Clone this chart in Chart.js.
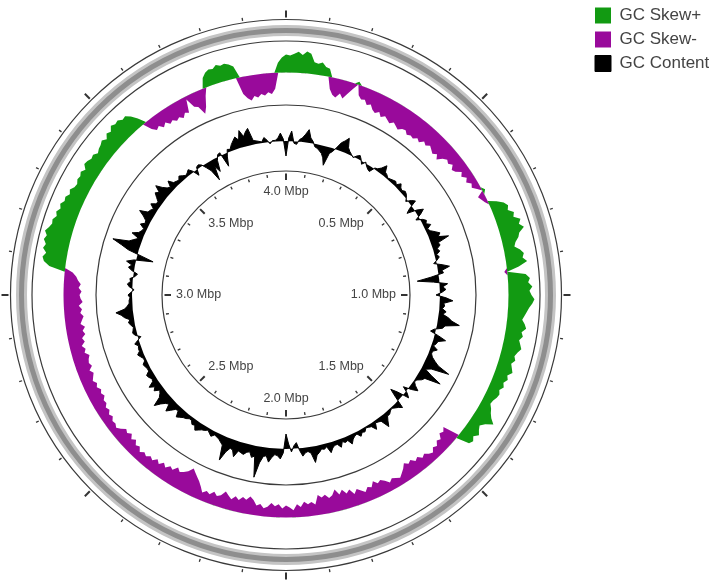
<!DOCTYPE html>
<html><head><meta charset="utf-8">
<script src="https://cdn.jsdelivr.net/npm/chart.js@4.4.1/dist/chart.umd.min.js"></script>
<style>html,body{margin:0;padding:0;background:#fff;overflow:hidden;width:709px;height:584px;position:relative}canvas{display:block;position:absolute;left:-16px;top:0}</style>
</head><body>
<canvas id="c" width="732" height="590"></canvas>
<script>
// ---------------- data ----------------
const GENOME_MBP = 4.0;
const SERIES_NAMES = ['GC Skew+', 'GC Skew-', 'GC Content'];
const TICK_POSITIONS_MBP = [0.5, 1.0, 1.5, 2.0, 2.5, 3.0, 3.5, 4.0];
const TICK_LABELS = ['0.5 Mbp', '1.0 Mbp', '1.5 Mbp', '2.0 Mbp', '2.5 Mbp', '3.0 Mbp', '3.5 Mbp', '4.0 Mbp'];
const MINOR_TICK_STEP_MBP = 0.1;

// GC skew, one window per degree (clockwise from 0 Mbp), positive = Skew+
const GC_SKEW = [
  18, 17, 19, 21, 18, 22, 20, 12, 11, 13,
  9, 8, -12, -17, -19, -14, -18, -12, -6, 3,
  -10, -13, -12, -16, -14, -18, -20, -17, -21, -18,
  -20, -22, -19, -21, -23, -20, -19, -22, -20, -21,
  -18, -20, -16, -18, -15, -17, -19, -16, -20, -15,
  -12, -14, -11, -15, -13, -8, -11, -7, -10, -6,
  -8, -4, 3, -7, -5, -3, 8, 14, 17, 15,
  20, 18, 24, 21, 25, 19, 17, 13, 11, 16,
  19, 17, 21, 12, -3, 18, 22, 20, 24, 21,
  23, 26, 24, 21, 19, 17, 15, 18, 20, 16,
  18, 15, 17, 19, 16, 14, 16, 13, 15, 17,
  13, 15, 12, 14, 11, 13, 12, 10, 9, 12,
  14, 17, 22, 15, 11, 13, 16, 12, 15, 13,
  -17, -14, -16, -11, -13, -9, -11, -7, -9, -12,
  -10, -14, -12, -16, -14, -17, -13, -10, -7, -9,
  -11, -8, -12, -15, -13, -17, -12, -14, -10, -13,
  -16, -12, -18, -15, -20, -16, -22, -17, -15, -19,
  -17, -20, -11, -14, -12, -15, -10, -13, -7, -10,
  -12, -9, -13, -11, -14, -10, -8, -12, -10, -15,
  -18, -14, -16, -12, -15, -11, -14, -17, -12, -10,
  -13, -9, -11, -8, -13, -17, -20, -23, -26, -21,
  -18, -16, -19, -14, -16, -12, -15, -11, -14, -10,
  -12, -9, -11, -8, -12, -10, -14, -11, -15, -12,
  -14, -10, -7, -9, -8, -11, -9, -12, -10, -13,
  -12, -15, -13, -15, -12, -14, -11, -13, -15, -12,
  -16, -14, -15, -17, -13, -15, -12, -16, -14, -18,
  -16, -19, -15, -17, -19, -16, -18, -15, -19, -17,
  -16, -18, -15, -17, -14, -12, -8, 16, 22, 24,
  21, 25, 23, 26, 24, 27, 24, 22, 23, 20,
  22, 19, 21, 18, 19, 16, 18, 15, 14, 16,
  15, 17, 14, 18, 17, 15, 16, 13, 15, 16,
  18, 15, 19, 17, 21, 19, 20, 17, 18, 14,
  8, -9, -13, -11, -15, -12, -16, -14, -17, -15,
  -18, -14, -16, -3, -13, -15, -24, -18, -8, 10,
  14, 16, 15, 18, 16, 17, 15, 12, -17, -22,
  -25, -21, -23, -20, -22, -19, -21, -16, 10, 15
];

// GC content deviation from the mean, same windows, positive = outward
const GC_CONTENT = [
  -15, 3, 10, -2, -3, 2, 4, 8, 13, 5,
  2, -3, -4, -6, -8, -12, -19, -6, -3, 2,
  8, 11, 15, 6, 3, 1, -1, 2, 4, 1,
  -3, 1, -2, -4, -5, 1, 2, 5, 10, 4,
  3, 1, 2, 3, 4, 2, 6, 3, 2, 4,
  3, 1, -2, 3, 6, -3, -8, 2, 8, 3,
  -4, 2, 5, 3, 7, 2, 4, 8, 12, 9,
  19, 7, 8, 4, 6, 2, 4, 1, -3, 5,
  12, 4, 5, -8, -22, -6, 8, 3, 6, 2,
  -4, 6, 13, 4, 5, 3, 7, 4, 10, 14,
  22, 8, 6, -2, -5, 4, 12, 5, 4, 2,
  7, 3, 3, 5, 9, 14, 27, 9, 4, 12,
  24, 8, 6, 2, 1, 4, 9, 3, -5, 2,
  6, -6, -13, -4, 8, 5, 3, 1, 2, 4,
  4, 8, 13, 4, 3, 2, 8, 3, 2, 1,
  4, 3, 6, 2, 3, 5, 9, 4, 5, 3,
  8, 4, 4, 6, 10, 3, 5, 4, 7, 9,
  16, 6, 4, 5, 8, 2, -6, -3, 3, -5,
  -15, 4, 10, 7, 6, 9, 14, 8, 9, 16,
  31, 10, 12, 7, 8, 11, 10, 9, 16, 10,
  9, 14, 24, 9, 7, 5, 4, 3, 6, 4,
  2, 4, 5, 7, 9, 5, 6, 3, 3, 5,
  6, 8, 10, 4, 5, 9, 13, 6, 8, 12,
  18, 9, 6, 4, 9, 6, 11, 5, 4, 6,
  7, 3, 3, 4, 5, 2, 2, 4, 6, 3,
  3, 2, 5, 1, -3, 2, 4, 3, 2, 4,
  6, 4, 9, 12, 17, 8, 5, 3, 3, 2,
  4, 1, -2, 3, 5, 2, 3, -2, -4, 2,
  6, 3, 9, 2, -17, -5, 10, 18, 28, 12,
  8, 4, 12, 6, 4, 3, 8, 4, 5, 9,
  15, 7, 6, 4, 9, 5, 4, 8, 12, 9,
  16, 10, 6, 4, 10, 5, 4, 3, 6, 4,
  2, 3, 5, 1, -6, 2, 3, 1, -4, -9,
  -21, -7, -14, -3, 2, 3, -13, -4, 3, 2,
  6, 9, 12, 8, 17, 10, 14, 17, 4, 3,
  2, 1, 5, 2, -2, 1, 1, 3, 8, 2
];

// ---------------- ring layout (radial scale units = px) ----------------
const SCALE_MAX = 295;
const R_INNER = 124, GC_BASE = 154, R_MID = 190, SKEW_BASE = 222.5;
const R_BAND_IN = 254, R_BAND = 264.5, R_OUTER = 275.5;
const OUTER_TICK = {r0: 277.5, minor: 280.5, major: 284.5};
const INNER_TICK = {r1: 121.5, minor: 118.5, major: 115};
const LABEL_R = 110;

const GREEN = '#129a12', PURPLE = '#990a9b', BLACK = '#000000', LINE = '#3a3a3a';

const N = GC_SKEW.length;
const positions = GC_SKEW.map((_, i) => (i * GENOME_MBP / N).toFixed(3) + ' Mbp');

const GRID_RINGS = [
  {v: 0, c: 'rgba(0,0,0,0)', w: 0},
  {v: R_INNER, c: LINE, w: 1.2},
  {v: R_MID, c: LINE, w: 1.2},
  {v: R_BAND_IN, c: LINE, w: 1.2},
  {v: R_BAND, c: '#c4c4c4', w: 11},
  {v: R_BAND, c: '#8e8e8e', w: 5},
  {v: R_OUTER, c: LINE, w: 1.2}
];

const ringDecor = {
  id: 'ringDecor',
  afterDatasetsDraw(chart) {
    const s = chart.scales.r, ctx = chart.ctx;
    const idxOf = mbp => (mbp % GENOME_MBP) / GENOME_MBP * N;
    const seg = (idx, a, b, w) => {
      const p = s.getPointPositionForValue(idx, a), q = s.getPointPositionForValue(idx, b);
      ctx.lineWidth = w; ctx.beginPath(); ctx.moveTo(p.x, p.y); ctx.lineTo(q.x, q.y); ctx.stroke();
    };
    ctx.save();
    ctx.strokeStyle = '#333';
    const nTicks = Math.round(GENOME_MBP / MINOR_TICK_STEP_MBP);
    for (let k = 0; k < nTicks; k++) {
      const idx = idxOf(k * MINOR_TICK_STEP_MBP);
      const major = k % 5 === 0;
      seg(idx, OUTER_TICK.r0, major ? OUTER_TICK.major : OUTER_TICK.minor, major ? 2 : 1.3);
      seg(idx, major ? INNER_TICK.major : INNER_TICK.minor, INNER_TICK.r1, major ? 2 : 1.3);
    }
    ctx.fillStyle = '#444';
    ctx.font = '12.5px "Liberation Sans", Arial, sans-serif';
    TICK_POSITIONS_MBP.forEach((mbp, i) => {
      const deg = ((mbp % GENOME_MBP) / GENOME_MBP) * 360;
      const p = s.getPointPositionForValue(idxOf(mbp), LABEL_R);
      ctx.textAlign = (deg === 0 || deg === 180) ? 'center' : (deg < 180 ? 'right' : 'left');
      ctx.textBaseline = (deg === 90 || deg === 270) ? 'middle' : ((deg > 90 && deg < 270) ? 'bottom' : 'top');
      ctx.fillText(TICK_LABELS[i], p.x, p.y);
    });
    ctx.restore();
  }
};

new Chart(document.getElementById('c'), {
  type: 'radar',
  data: {
    labels: positions,
    datasets: [
      {label: SERIES_NAMES[0], data: GC_SKEW.map(v => SKEW_BASE + Math.max(v, 0)),
       backgroundColor: GREEN, borderColor: GREEN, borderWidth: 0, fill: {value: SKEW_BASE}},
      {label: SERIES_NAMES[1], data: GC_SKEW.map(v => SKEW_BASE + Math.min(v, 0)),
       backgroundColor: PURPLE, borderColor: PURPLE, borderWidth: 0, fill: {value: SKEW_BASE}},
      {label: SERIES_NAMES[2], data: GC_CONTENT.map(v => GC_BASE + v),
       backgroundColor: BLACK, borderColor: BLACK, borderWidth: 1, fill: {value: GC_BASE}}
    ]
  },
  options: {
    responsive: false,
    animation: false,
    events: [],
    layout: {padding: 0},
    elements: {point: {radius: 0, hitRadius: 0}, line: {tension: 0}},
    scales: {
      r: {
        min: 0, max: SCALE_MAX, startAngle: 0,
        ticks: {display: false},
        pointLabels: {display: false},
        angleLines: {display: false},
        grid: {
          circular: true,
          color: c => GRID_RINGS[c.index] ? GRID_RINGS[c.index].c : 'rgba(0,0,0,0)',
          lineWidth: c => GRID_RINGS[c.index] ? GRID_RINGS[c.index].w : 0
        },
        afterBuildTicks: sc => { sc.ticks = GRID_RINGS.map(g => ({value: g.v})); }
      }
    },
    plugins: {
      legend: {
        position: 'right', align: 'start', maxWidth: 128,
        labels: {boxWidth: 16, boxHeight: 16, padding: 7, color: '#444',
                 font: {size: 17, family: '"Liberation Sans", Arial, sans-serif'}}
      },
      tooltip: {enabled: false}
    }
  },
  plugins: [ringDecor]
});
</script>
</body></html>
